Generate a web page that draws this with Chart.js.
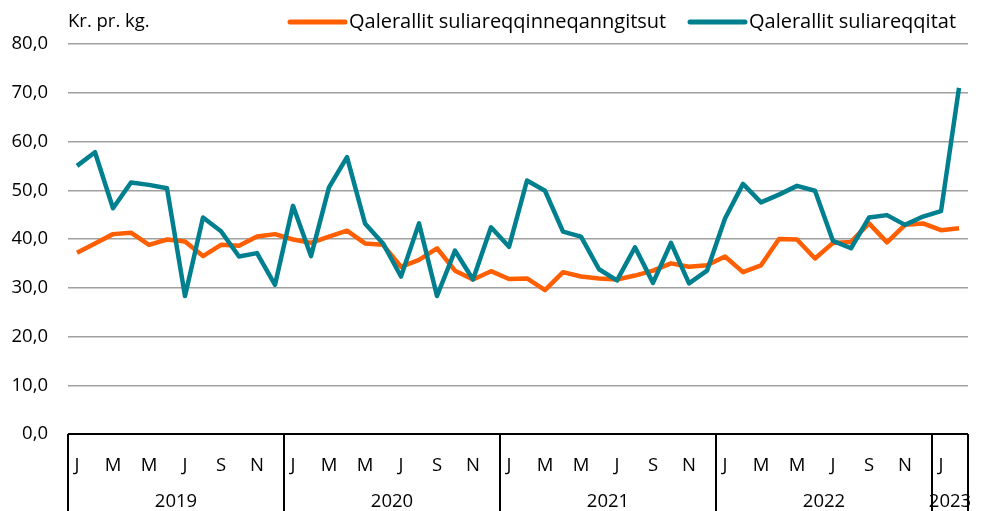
<!DOCTYPE html>
<html>
<head>
<meta charset="utf-8">
<script src="https://cdn.jsdelivr.net/npm/chart.js@4.4.1/dist/chart.umd.min.js"></script>
<style>
  html, body { margin: 0; padding: 0; background: #fff; }
  #wrap { width: 986px; height: 511px; position: relative; }
</style>
</head>
<body>
<div id="wrap"><canvas id="fiskChart"></canvas></div>
<script>
// Data
const months = ['J', 'F', 'M', 'A', 'M', 'J', 'J', 'A', 'S', 'O', 'N', 'D'];
const years = ['2019', '2020', '2021', '2022', '2023'];
const monthsPerYear = [12, 12, 12, 12, 2];

const unprocessed = [
    37.2, 39.1, 41.0, 41.3, 38.8, 39.9, 39.5, 36.5, 38.8, 38.6, 40.5, 41.0,
    39.9, 39.2, 40.5, 41.7, 39.1, 38.8, 34.3, 35.7, 38.1, 33.5, 31.7, 33.4,
    31.8, 31.9, 29.5, 33.2, 32.3, 31.9, 31.7, 32.5, 33.5, 35.0, 34.3, 34.6,
    36.4, 33.2, 34.6, 40.0, 39.9, 36.0, 39.2, 39.4, 43.2, 39.3, 42.9, 43.2,
    41.8, 42.2
];
const processed = [
    55.0, 57.8, 46.3, 51.6, 51.1, 50.4, 28.3, 44.4, 41.6, 36.4, 37.1, 30.6,
    46.8, 36.5, 50.6, 56.8, 43.2, 39.1, 32.3, 43.2, 28.3, 37.6, 31.7, 42.4,
    38.4, 52.0, 49.9, 41.5, 40.5, 33.8, 31.5, 38.3, 31.0, 39.2, 30.9, 33.5,
    44.2, 51.3, 47.5, 49.1, 50.9, 49.9, 39.6, 38.1, 44.4, 44.9, 42.9, 44.6,
    45.7, 71.0
];

const seriesNames = ['Qalerallit suliareqqinneqanngitsut', 'Qalerallit suliareqqitat'];
const seriesColors = ['#FF5F00', '#00808F'];
const unitLabel = 'Kr. pr. kg.';

// labels: month letter per month, year info kept in separate arrays
const labels = [];
years.forEach((y, yi) => {
    for (let m = 0; m < monthsPerYear[yi]; m++) labels.push(months[m]);
});

const FONT = '"Open Sans", sans-serif';

// Draw the two level x axis box, year labels, unit text and legend
const extrasPlugin = {
    id: 'extras',
    afterDraw(chart) {
        const { ctx, chartArea, scales } = chart;
        const x = scales.x;
        const h = chart.height;
        ctx.save();
        ctx.strokeStyle = '#000';
        ctx.lineWidth = 2;
        ctx.beginPath();
        ctx.moveTo(chartArea.left, chartArea.bottom);
        ctx.lineTo(chartArea.right, chartArea.bottom);
        ctx.stroke();

        let start = 0;
        const bounds = [0];
        monthsPerYear.forEach(n => { start += n; bounds.push(start); });
        bounds.forEach(b => {
            const px = Math.round(x.getPixelForValue(b - 0.5));
            ctx.beginPath();
            ctx.moveTo(px, chartArea.bottom);
            ctx.lineTo(px, h);
            ctx.stroke();
        });

        ctx.fillStyle = '#000';
        ctx.font = '18.5px ' + FONT;
        ctx.textAlign = 'center';
        ctx.textBaseline = 'middle';
        years.forEach((y, i) => {
            const a = x.getPixelForValue(bounds[i] - 0.5);
            const b = x.getPixelForValue(bounds[i + 1] - 0.5);
            ctx.fillText(y, (a + b) / 2, chartArea.bottom + 68);
        });

        // unit label
        ctx.textAlign = 'left';
        ctx.fillText(unitLabel, chartArea.left, 22);

        // legend
        ctx.font = '20px ' + FONT;
        const legendX = [290, 690];
        seriesNames.forEach((name, i) => {
            ctx.strokeStyle = seriesColors[i];
            ctx.lineWidth = 5;
            ctx.lineCap = 'round';
            ctx.beginPath();
            ctx.moveTo(legendX[i], 22);
            ctx.lineTo(legendX[i] + 55, 22);
            ctx.stroke();
            ctx.fillStyle = '#000';
            ctx.fillText(name, legendX[i] + 59, 22);
        });
        ctx.restore();
    }
};

const ctx1 = document.getElementById('fiskChart').getContext('2d');
new Chart(ctx1, {
    type: 'line',
    data: {
        labels: labels,
        datasets: [
            {
                label: seriesNames[0],
                data: unprocessed,
                borderColor: seriesColors[0],
                backgroundColor: seriesColors[0],
                borderWidth: 4.5,
                pointRadius: 0,
                tension: 0,
                borderJoinStyle: 'round',
                order: 1
            },
            {
                label: seriesNames[1],
                data: processed,
                borderColor: seriesColors[1],
                backgroundColor: seriesColors[1],
                borderWidth: 4.5,
                pointRadius: 0,
                tension: 0,
                borderJoinStyle: 'round',
                order: 0
            }
        ]
    },
    options: {
        responsive: true,
        maintainAspectRatio: false,
        animation: false,
        layout: { padding: { top: 44, right: 18, left: 0, bottom: 0 } },
        plugins: {
            legend: { display: false },
            tooltip: { enabled: false }
        },
        scales: {
            x: {
                offset: true,
                grid: { display: false },
                border: { display: false },
                afterFit: (scale) => { scale.height = 77; },
                ticks: {
                    autoSkip: false,
                    maxRotation: 0,
                    padding: 13,
                    color: '#000',
                    font: { family: FONT, size: 18.5 },
                    callback: (val, i) => (i % 2 === 0 ? labels[i] : '')
                }
            },
            y: {
                min: 0,
                max: 80,
                afterFit: (scale) => { scale.width = 68; },
                border: { display: false },
                grid: { color: '#a0a0a0', lineWidth: 1.5, drawTicks: false },
                ticks: {
                    stepSize: 10,
                    padding: 20,
                    color: '#000',
                    font: { family: FONT, size: 18.5 },
                    callback: (v) => v.toFixed(1).replace('.', ',')
                }
            }
        }
    },
    plugins: [extrasPlugin]
});
</script>
</body>
</html>
